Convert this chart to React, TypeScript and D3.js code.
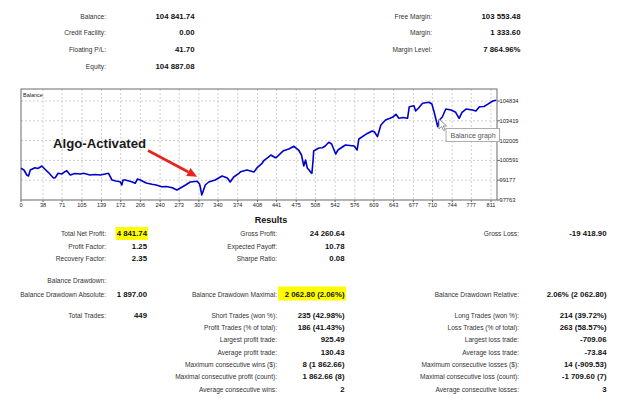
import React from "react";
import * as d3 from "d3";

const WIDTH = 625;
const HEIGHT = 404;
const FONT = "'Liberation Sans', Arial, sans-serif";

// balance curve (trade number -> balance)
const tradeIdx = [
  0, 5, 10, 13, 16, 24, 29, 36, 41, 47,
  56, 59, 64, 70, 76, 79, 85, 93, 102, 108,
  119, 128, 137, 151, 154, 157, 164, 171, 174, 176,
  180, 191, 197, 201, 206, 216, 226, 233, 243, 251,
  261, 269, 275, 284, 292, 304, 308, 309, 312, 315,
  318, 324, 335, 347, 356, 361, 367, 376, 379, 390,
  402, 408, 416, 419, 428, 431, 439, 442, 451, 453,
  462, 471, 479, 484, 488, 491, 494, 497, 500, 502,
  504, 505, 514, 520, 525, 531, 536, 543, 547, 557,
  560, 575, 580, 583, 595, 606, 610, 615, 621, 629,
  641, 647, 652, 659, 667, 670, 678, 681, 686, 693,
  704, 709, 713, 719, 722, 727, 733, 742, 750, 756,
  761, 768, 779, 785, 791, 799, 805, 814, 820,
];
const balance = [
  100027, 99906, 99549, 99477, 99906, 100070, 100013, 100191, 99977, 99741,
  99334, 99356, 99670, 99620, 99784, 99856, 99549, 99656, 99620, 99670,
  99549, 99584, 99549, 99670, 99427, 99191, 99120, 99070, 98834, 99191,
  99191, 99070, 98956, 99263, 99191, 98977, 98884, 98834, 98713, 98727,
  98641, 98477, 98620, 98834, 99049, 99099, 98906, 98763, 98120, 98477,
  98834, 99049, 99191, 99477, 99334, 99049, 99406, 99670, 99784, 99906,
  99763, 100098, 100384, 100570, 100855, 100977, 100784, 100855, 101213, 101284,
  101405, 101598, 101334, 100977, 100191, 100620, 100048, 99906, 99741, 99670,
  100620, 101263, 101477, 101498, 101620, 101884, 101763, 101048, 101334, 101620,
  101691, 101620, 101334, 102120, 102455, 102691, 102620, 102284, 103120, 103477,
  103669, 103884, 103598, 103655, 103598, 104426, 104498, 104119, 104334, 104669,
  104741, 104619, 104027, 103000, 103477, 103691, 104262, 104191, 104027, 103598,
  104027, 104262, 104191, 104119, 104426, 104441, 104598, 104834, 104884,
];

const xTicks = [0, 38, 71, 105, 139, 172, 206, 240, 273, 307, 340, 374, 408, 441, 475, 508, 542, 576, 609, 643, 677, 710, 744, 777, 811];
const yTicks = [97763, 99177, 100591, 102005, 103419, 104834];

// account block
const accLabelsL = ["Balance:", "Credit Facility:", "Floating P/L:", "Equity:"];
const accValuesL = ["104 841.74", "0.00", "41.70", "104 887.08"];
const accLabelsR = ["Free Margin:", "Margin:", "Margin Level:"];
const accValuesR = ["103 553.48", "1 333.60", "7 864.96%"];

// results block
const profitLabels = ["Total Net Profit:", "Profit Factor:", "Recovery Factor:"];
const profitValues = ["4 841.74", "1.25", "2.35"];
const grossLabels = ["Gross Profit:", "Expected Payoff:", "Sharpe Ratio:"];
const grossValues = ["24 260.64", "10.78", "0.08"];
const lossLabels = ["Gross Loss:"];
const lossValues = ["-19 418.90"];

const ddLabels = ["Balance Drawdown Absolute:", "Balance Drawdown Maximal:", "Balance Drawdown Relative:"];
const ddValues = ["1 897.00", "2 062.80 (2.06%)", "2.06% (2 062.80)"];

const tradeLabelsL = ["Total Trades:"];
const tradeValuesL = ["449"];
const tradeLabelsM = [
  "Short Trades (won %):",
  "Profit Trades (% of total):",
  "Largest profit trade:",
  "Average profit trade:",
  "Maximum consecutive wins ($):",
  "Maximal consecutive profit (count):",
  "Average consecutive wins:",
];
const tradeValuesM = ["235 (42.98%)", "186 (41.43%)", "925.49", "130.43", "8 (1 862.66)", "1 862.66 (8)", "2"];
const tradeLabelsR = [
  "Long Trades (won %):",
  "Loss Trades (% of total):",
  "Largest loss trade:",
  "Average loss trade:",
  "Maximum consecutive losses ($):",
  "Maximal consecutive loss (count):",
  "Average consecutive losses:",
];
const tradeValuesR = ["214 (39.72%)", "263 (58.57%)", "-709.06", "-73.84", "14 (-909.53)", "-1 709.60 (7)", "3"];

const FRAME = { left: 21, right: 497, top: 89, bottom: 200 };

const Row = ({ label, value, y, lx, vx }: { label: string; value?: string; y: number; lx: number; vx: number }) => (
  <g>
    <text x={lx} y={y} textAnchor="end" fontSize={6.6} fill="#333" fontFamily={FONT}>
      {label}
    </text>
    {value !== undefined && (
      <text x={vx} y={y} textAnchor="end" fontSize={7.8} fontWeight="bold" fill="#111" fontFamily={FONT}>
        {value}
      </text>
    )}
  </g>
);

const Column = ({ labels, values, y0, step, lx, vx }: { labels: string[]; values: string[]; y0: number; step: number; lx: number; vx: number }) => (
  <g>
    {labels.map((l, i) => (
      <Row key={l} label={l} value={values[i]} y={y0 + i * step} lx={lx} vx={vx} />
    ))}
  </g>
);

const BalanceChart = () => {
  const xScale = d3.scaleLinear().domain([0, 811]).range([21, 491]);
  const yScale = d3.scaleLinear().domain([97763, 104834]).range([200, 101]);

  const path =
    d3
      .line<number>()
      .x((_, i) => xScale(tradeIdx[i]))
      .y((d) => yScale(d))(balance) || "";

  // arrow pointing at the activation dip
  const tipX = xScale(304);
  const tipY = yScale(99427);
  const startX = 148;
  const startY = 150.5;
  const ang = Math.atan2(tipY - startY, tipX - startX);
  const headLen = 10;
  const headW = 4.5;
  const bx = tipX - headLen * Math.cos(ang);
  const by = tipY - headLen * Math.sin(ang);
  const head = [
    [tipX, tipY],
    [bx + headW * Math.sin(ang), by - headW * Math.cos(ang)],
    [bx - headW * Math.sin(ang), by + headW * Math.cos(ang)],
  ]
    .map((p) => p.join(","))
    .join(" ");

  return (
    <g>
      {/* grid */}
      {xTicks.slice(1).map((t) => (
        <line key={"gx" + t} x1={xScale(t)} x2={xScale(t)} y1={FRAME.top} y2={FRAME.bottom} stroke="#cfcfcf" strokeDasharray="2,2" />
      ))}
      {yTicks.slice(1).map((t) => (
        <line key={"gy" + t} x1={FRAME.left} x2={FRAME.right} y1={yScale(t)} y2={yScale(t)} stroke="#cfcfcf" strokeDasharray="2,2" />
      ))}
      <rect
        x={FRAME.left}
        y={FRAME.top}
        width={FRAME.right - FRAME.left}
        height={FRAME.bottom - FRAME.top}
        fill="none"
        stroke="#6a6a6a"
        strokeWidth={1}
      />
      {yTicks.map((t) => (
        <line key={"ty" + t} x1={FRAME.right} x2={FRAME.right + 3} y1={yScale(t)} y2={yScale(t)} stroke="#6a6a6a" />
      ))}
      {xTicks.map((t) => (
        <line key={"tx" + t} x1={xScale(t)} x2={xScale(t)} y1={FRAME.bottom} y2={FRAME.bottom + 2} stroke="#6a6a6a" />
      ))}
      <text x={23} y={96.5} fontSize={5.5} fill="#222" fontFamily={FONT}>
        Balance
      </text>

      <path d={path} fill="none" stroke="#0000cc" strokeWidth={1.6} strokeLinejoin="round" />

      {/* axis labels */}
      {xTicks.map((t) => (
        <text key={"lx" + t} x={xScale(t)} y={206.5} textAnchor="middle" fontSize={5.6} fill="#222" fontFamily={FONT}>
          {t}
        </text>
      ))}
      {yTicks.map((t) => (
        <text key={"ly" + t} x={499.5} y={yScale(t) + 2} fontSize={5.7} fill="#222" fontFamily={FONT}>
          {t}
        </text>
      ))}

      {/* annotation */}
      <text x={53} y={148} fontSize={13.2} fontWeight="bold" fill="#1a1a1a" fontFamily={FONT}>
        Algo-Activated
      </text>
      <line x1={startX} y1={startY} x2={bx} y2={by} stroke="#e8231f" strokeWidth={2.6} />
      <polygon points={head} fill="#e8231f" />

      {/* tooltip */}
      <polygon
        points="439,119 439,129 441.6,126.6 443.6,130.6 445.2,129.8 443.3,126 446.6,126"
        fill="#fff"
        stroke="#777"
        strokeWidth={0.8}
        strokeLinejoin="round"
      />
      <rect x={446} y={128.5} width={53.5} height={13} fill="#fff" stroke="#9a9a9a" strokeWidth={0.8} />
      <text x={450.5} y={137.6} fontSize={7} fill="#555" fontFamily={FONT}>
        Balance graph
      </text>
    </g>
  );
};

export default function App() {
  return (
    <svg
      width={WIDTH}
      height={HEIGHT}
      style={{ position: "absolute", left: 0, top: 0, display: "block", background: "#fff" }}
    >
      {/* account block */}
      <Column labels={accLabelsL} values={accValuesL} y0={18.5} step={16.9} lx={106} vx={194.5} />
      <Column labels={accLabelsR} values={accValuesR} y0={18.5} step={16.9} lx={432} vx={520.5} />

      <BalanceChart />

      {/* results */}
      <text x={271} y={223.2} textAnchor="middle" fontSize={9} fontWeight="bold" fill="#111" fontFamily={FONT}>
        Results
      </text>

      <rect x={115.5} y={227} width={32.5} height={13} fill="#ffff00" />
      <rect x={278} y={286.5} width={68} height={14} fill="#ffff00" />

      <Column labels={profitLabels} values={profitValues} y0={236} step={12.5} lx={106} vx={147} />
      <Column labels={grossLabels} values={grossValues} y0={236} step={12.5} lx={277} vx={344.5} />
      <Column labels={lossLabels} values={lossValues} y0={236} step={12.5} lx={519} vx={606.5} />

      <Row label="Balance Drawdown:" y={282.5} lx={106} vx={147} />
      <Row label={ddLabels[0]} value={ddValues[0]} y={296.5} lx={106} vx={147} />
      <Row label={ddLabels[1]} value={ddValues[1]} y={296.5} lx={277} vx={344.5} />
      <Row label={ddLabels[2]} value={ddValues[2]} y={296.5} lx={519} vx={606.5} />

      <Column labels={tradeLabelsL} values={tradeValuesL} y0={317.5} step={12.35} lx={106} vx={147} />
      <Column labels={tradeLabelsM} values={tradeValuesM} y0={317.5} step={12.35} lx={277} vx={344.5} />
      <Column labels={tradeLabelsR} values={tradeValuesR} y0={317.5} step={12.35} lx={519} vx={606.5} />
    </svg>
  );
}
